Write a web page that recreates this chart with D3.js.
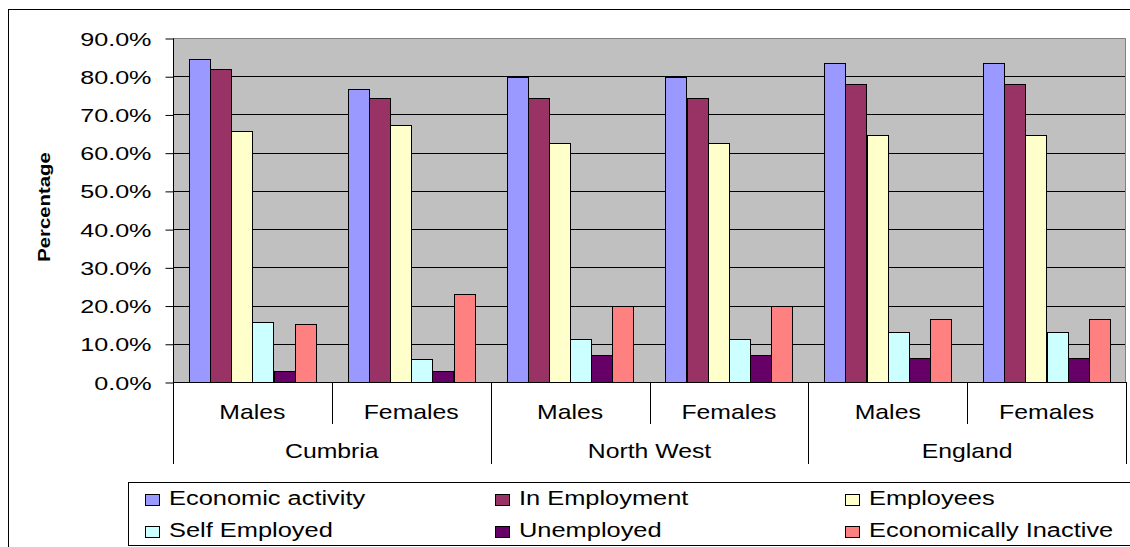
<!DOCTYPE html>
<html>
<head>
<meta charset="utf-8">
<script src="https://cdn.jsdelivr.net/npm/d3@7"></script>
<style>
  html, body { margin: 0; padding: 0; background: #fff; }
  svg { display: block; }
  text { font-family: "Liberation Sans", Arial, sans-serif; fill: #000; }
</style>
</head>
<body>
<svg id="chart" width="1130" height="547"></svg>
<script>
// Sub-categories (sex) within each area, in drawing order
const areas = ["Cumbria", "North West", "England"];
const sexes = ["Males", "Females"];
const categories = ["Cumbria|Males", "Cumbria|Females", "North West|Males", "North West|Females", "England|Males", "England|Females"];

// Series values (percent) per category, same order as categories
const seriesNames = ["Economic activity", "In Employment", "Employees", "Self Employed", "Unemployed", "Economically Inactive"];
const economicActivity     = [84.5, 76.7, 79.9, 79.9, 83.4, 83.4];
const inEmployment         = [81.9, 74.3, 74.3, 74.3, 78.0, 78.0];
const employees            = [65.7, 67.3, 62.4, 62.4, 64.7, 64.7];
const selfEmployed         = [15.7, 6.0, 11.3, 11.3, 13.1, 13.1];
const unemployed           = [2.9, 2.9, 7.1, 7.1, 6.2, 6.2];
const economicallyInactive = [15.1, 23.0, 19.8, 19.8, 16.4, 16.4];
const seriesColors = ["#9999FF", "#993366", "#FFFFCC", "#CCFFFF", "#660066", "#FF8080"];

// Y-axis ticks (fractions) and their labels
const yTicks = [0, 0.1, 0.2, 0.3, 0.4, 0.5, 0.6, 0.7, 0.8, 0.9];
const yTickLabels = ["0.0%", "10.0%", "20.0%", "30.0%", "40.0%", "50.0%", "60.0%", "70.0%", "80.0%", "90.0%"];
const yTitle = "Percentage";

const seriesValues = [economicActivity, inEmployment, employees, selfEmployed, unemployed, economicallyInactive];

const svg = d3.select("#chart");

// Plot frame
const plot = { left: 173, top: 38, right: 1126, bottom: 382 };

const x = d3.scaleBand().domain(categories).range([plot.left, plot.right]).paddingInner(0).paddingOuter(0);
const xs = d3.scaleBand().domain(seriesNames).range([0, x.bandwidth()]).paddingInner(0).paddingOuter(0.75);
const y = d3.scaleLinear().domain([0, 0.9]).range([plot.bottom, plot.top]);

// Horizontally widened text, drawn inside a transformed group
function wideText(parent, tx, ty, str, opts) {
  const g = parent.append("g")
    .attr("transform", `translate(${tx},${ty}) rotate(${opts.rotate || 0}) scale(${opts.sx || 1},1)`);
  return g.append("text")
    .attr("x", 0).attr("y", 0)
    .attr("text-anchor", opts.anchor || "start")
    .attr("font-size", opts.size)
    .attr("font-weight", opts.weight || "normal")
    .text(str);
}

// Outer chart frame
svg.append("rect")
  .attr("x", 8.5).attr("y", 9.5).attr("width", 1200).attr("height", 600)
  .attr("fill", "#fff").attr("stroke", "#000").attr("stroke-width", 1);

// Plot background
svg.append("rect")
  .attr("x", plot.left).attr("y", plot.top)
  .attr("width", plot.right - plot.left).attr("height", plot.bottom - plot.top)
  .attr("fill", "#C0C0C0");

// Gridlines
svg.append("g").selectAll("line")
  .data(yTicks.filter(t => t > 0 && t < 0.9))
  .join("line")
  .attr("x1", plot.left).attr("x2", plot.right)
  .attr("y1", d => Math.round(y(d)) + 0.5).attr("y2", d => Math.round(y(d)) + 0.5)
  .attr("stroke", "#000").attr("stroke-width", 1);

// Plot border (top and right)
svg.append("path")
  .attr("d", `M${plot.left},${plot.top + 0.5}H${plot.right - 0.5}V${plot.bottom}`)
  .attr("fill", "none").attr("stroke", "#808080").attr("stroke-width", 1);

// Bars
const barG = svg.append("g");
seriesNames.forEach((name, si) => {
  barG.append("g").selectAll("rect")
    .data(seriesValues[si].map((v, ci) => ({ cat: categories[ci], v })))
    .join("rect")
    .attr("x", d => Math.round(x(d.cat) + xs(name)) + 0.5)
    .attr("y", d => Math.round(y(d.v / 100)) + 0.5)
    .attr("width", Math.round(xs.bandwidth()))
    .attr("height", d => Math.round(y(0)) - Math.round(y(d.v / 100)))
    .attr("fill", seriesColors[si])
    .attr("stroke", "#000").attr("stroke-width", 1);
});

// Y axis with ticks
const yAxis = d3.axisLeft(y).tickValues(yTicks).tickSize(8).tickFormat("");
const yAxisG = svg.append("g")
  .attr("transform", `translate(${plot.left + 0.5},0.5)`)
  .call(yAxis);
yAxisG.select(".domain").attr("stroke", "#000").attr("d", `M0,${plot.top}V${plot.bottom}`);
yAxisG.selectAll(".tick line").attr("stroke", "#000");

// Y tick labels
yTicks.forEach((t, i) => {
  wideText(svg, 151.5, y(t) + 7.5, yTickLabels[i], { size: 18.5, sx: 1.36, anchor: "end" });
});

// Y axis title
wideText(svg, 49.5, 207, yTitle, { size: 16, sx: 1.27, anchor: "middle", rotate: -90, weight: "bold" });

// Category axis baseline
svg.append("line")
  .attr("x1", plot.left).attr("x2", plot.right)
  .attr("y1", plot.bottom + 0.5).attr("y2", plot.bottom + 0.5)
  .attr("stroke", "#000").attr("stroke-width", 1);

// Category dividers: short between sexes, long between areas
const boundaries = d3.range(categories.length + 1).map(i => plot.left + i * x.step());
svg.append("g").selectAll("line")
  .data(boundaries)
  .join("line")
  .attr("x1", d => Math.round(d) + 0.5).attr("x2", d => Math.round(d) + 0.5)
  .attr("y1", plot.bottom)
  .attr("y2", (d, i) => (i % sexes.length === 0 ? 464 : 424))
  .attr("stroke", "#000").attr("stroke-width", 1);

// Sex labels
categories.forEach(c => {
  const sex = c.split("|")[1];
  wideText(svg, x(c) + x.bandwidth() / 2, 419, sex, { size: 20, sx: 1.24, anchor: "middle" });
});

// Area labels
areas.forEach((a, i) => {
  const cx = plot.left + (i * sexes.length + sexes.length / 2) * x.step();
  wideText(svg, cx, 458, a, { size: 20, sx: 1.24, anchor: "middle" });
});

// Legend
const legend = svg.append("g");
legend.append("rect")
  .attr("x", 128.5).attr("y", 482.5).attr("width", 1100).attr("height", 63)
  .attr("fill", "#fff").attr("stroke", "#000").attr("stroke-width", 1);

const legendCols = 3;
seriesNames.forEach((name, i) => {
  const col = i % legendCols, row = Math.floor(i / legendCols);
  const lx = 145 + col * 350;
  const ly = 505 + row * 31.5;
  legend.append("rect")
    .attr("x", lx + 0.5).attr("y", Math.round(ly - 11) + 0.5)
    .attr("width", 14).attr("height", 11)
    .attr("fill", seriesColors[i]).attr("stroke", "#000").attr("stroke-width", 1);
  wideText(legend, lx + 24, ly, name, { size: 20, sx: 1.27, anchor: "start" });
});
</script>
</body>
</html>
